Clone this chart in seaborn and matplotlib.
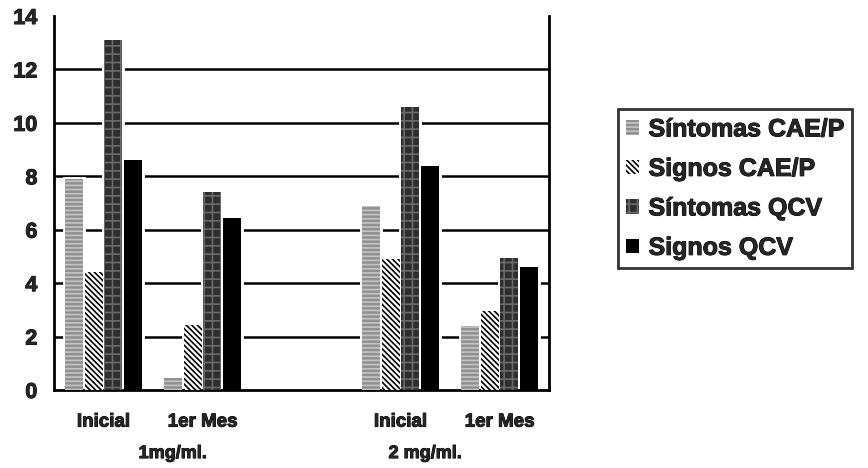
import numpy as np
import pandas as pd
import matplotlib
matplotlib.use("Agg")
import matplotlib.pyplot as plt
import matplotlib.patheffects as pe
import seaborn as sns
from matplotlib.patches import Patch

# categorias del eje x (hay un hueco vacio entre las dos dosis)
slots = ["1mg Inicial", "1mg 1er Mes", "hueco", "2mg Inicial", "2mg 1er Mes"]
slot_labels = ["Inicial", "1er Mes", "", "Inicial", "1er Mes"]
measured = ["1mg Inicial", "1mg 1er Mes", "2mg Inicial", "2mg 1er Mes"]
groups = ["1mg/ml.", "2 mg/ml."]
series = ["Síntomas CAE/P", "Signos CAE/P", "Síntomas QCV", "Signos QCV"]

sintomas_cae = [7.9, 0.45, 6.9, 2.4]
signos_cae = [4.4, 2.45, 4.9, 2.95]
sintomas_qcv = [13.1, 7.4, 10.6, 4.95]
signos_qcv = [8.6, 6.45, 8.4, 4.6]

values = [sintomas_cae, signos_cae, sintomas_qcv, signos_qcv]
rows = []
for s, vals in zip(series, values):
    for slot, v in zip(measured, vals):
        rows.append({"slot": slot, "serie": s, "valor": v})
df = pd.DataFrame(rows)

# relleno, trama, color de trama
faces = ["#909090", "white", "#2e2e2e", "black"]
hatches = ["----", "\\\\\\\\\\\\", "++", None]
hatch_cols = ["#c4c4c4", "black", "#6a6a6a", "black"]

sns.set_style("white")
plt.rcParams["font.family"] = ["Liberation Sans", "DejaVu Sans"]
plt.rcParams["hatch.linewidth"] = 1.2

fig = plt.figure(figsize=(8.68, 4.68), dpi=100)
ax = fig.add_axes([0.0622, 0.1667, 0.5703, 0.7991])

# capa blanca para cortar las lineas de la rejilla alrededor de las barras
sns.barplot(data=df, x="slot", y="valor", hue="serie", order=slots, hue_order=series,
            palette=["white"] * 4, edgecolor="white", linewidth=3.5, gap=0.1, width=0.8,
            errorbar=None, legend=False, ax=ax, zorder=2)
sns.barplot(data=df, x="slot", y="valor", hue="serie", order=slots, hue_order=series,
            palette=faces, linewidth=0, gap=0.1, width=0.8,
            errorbar=None, legend=False, ax=ax, zorder=3)

for i, cont in enumerate(ax.containers[4:]):
    for bar in cont:
        bar.set_hatch(hatches[i])
        bar.set_edgecolor(hatch_cols[i])
        bar.set_linewidth(0)

heavy = [pe.withStroke(linewidth=0.7, foreground="black")]

ax.set_xlabel("")
ax.set_ylabel("")
ax.set_xlim(-0.5, 4.5)
ax.set_ylim(0, 14)
ax.set_yticks(range(0, 15, 2))

ax.set_xticks(np.arange(-0.5, 5, 1))
ax.set_xticklabels([])
ax.set_xticks(range(len(slots)), minor=True)
ax.set_xticklabels(slot_labels, minor=True, fontsize=13.5, fontweight="bold")
ax.tick_params(axis="x", which="minor", length=0, pad=17)
ax.tick_params(axis="x", which="major", direction="out", length=5, width=1.5, color="black")
ax.tick_params(axis="y", direction="inout", length=10, width=1.5, color="black",
               labelsize=15.5, pad=7)
for lbl in ax.get_yticklabels() + ax.get_xticklabels(minor=True):
    lbl.set_fontweight("bold")
    lbl.set_path_effects(heavy)

ax.set_axisbelow(True)
ax.yaxis.grid(True, color="black", linewidth=1.8)
gl = ax.get_ygridlines()
gl[0].set_visible(False)
gl[-1].set_visible(False)

ax.spines["top"].set_visible(False)
for side in ["left", "bottom", "right"]:
    ax.spines[side].set_color("black")
    ax.spines[side].set_linewidth(2)

# etiquetas de dosis
for g, pos in zip(groups, [0.7, 3.25]):
    ax.text(pos, -0.17, g, transform=ax.get_xaxis_transform(), ha="center", va="center",
            fontsize=13, fontweight="bold", path_effects=heavy)

handles = [Patch(facecolor=f, hatch=h, edgecolor=c, linewidth=0, label=s)
           for f, h, c, s in zip(faces, hatches, hatch_cols, series)]
leg = ax.legend(handles=handles, loc="center left", bbox_to_anchor=(0.712, 0.597),
                bbox_transform=fig.transFigure, frameon=True, fancybox=False,
                edgecolor="black", prop={"weight": "bold", "size": 18},
                handlelength=0.5, handleheight=0.5, handletextpad=0.4,
                labelspacing=0.62, borderpad=0.32, borderaxespad=0)
leg.get_frame().set_linewidth(2)
for t in leg.get_texts():
    t.set_path_effects(heavy)

fig.savefig("out.png", dpi=100)
